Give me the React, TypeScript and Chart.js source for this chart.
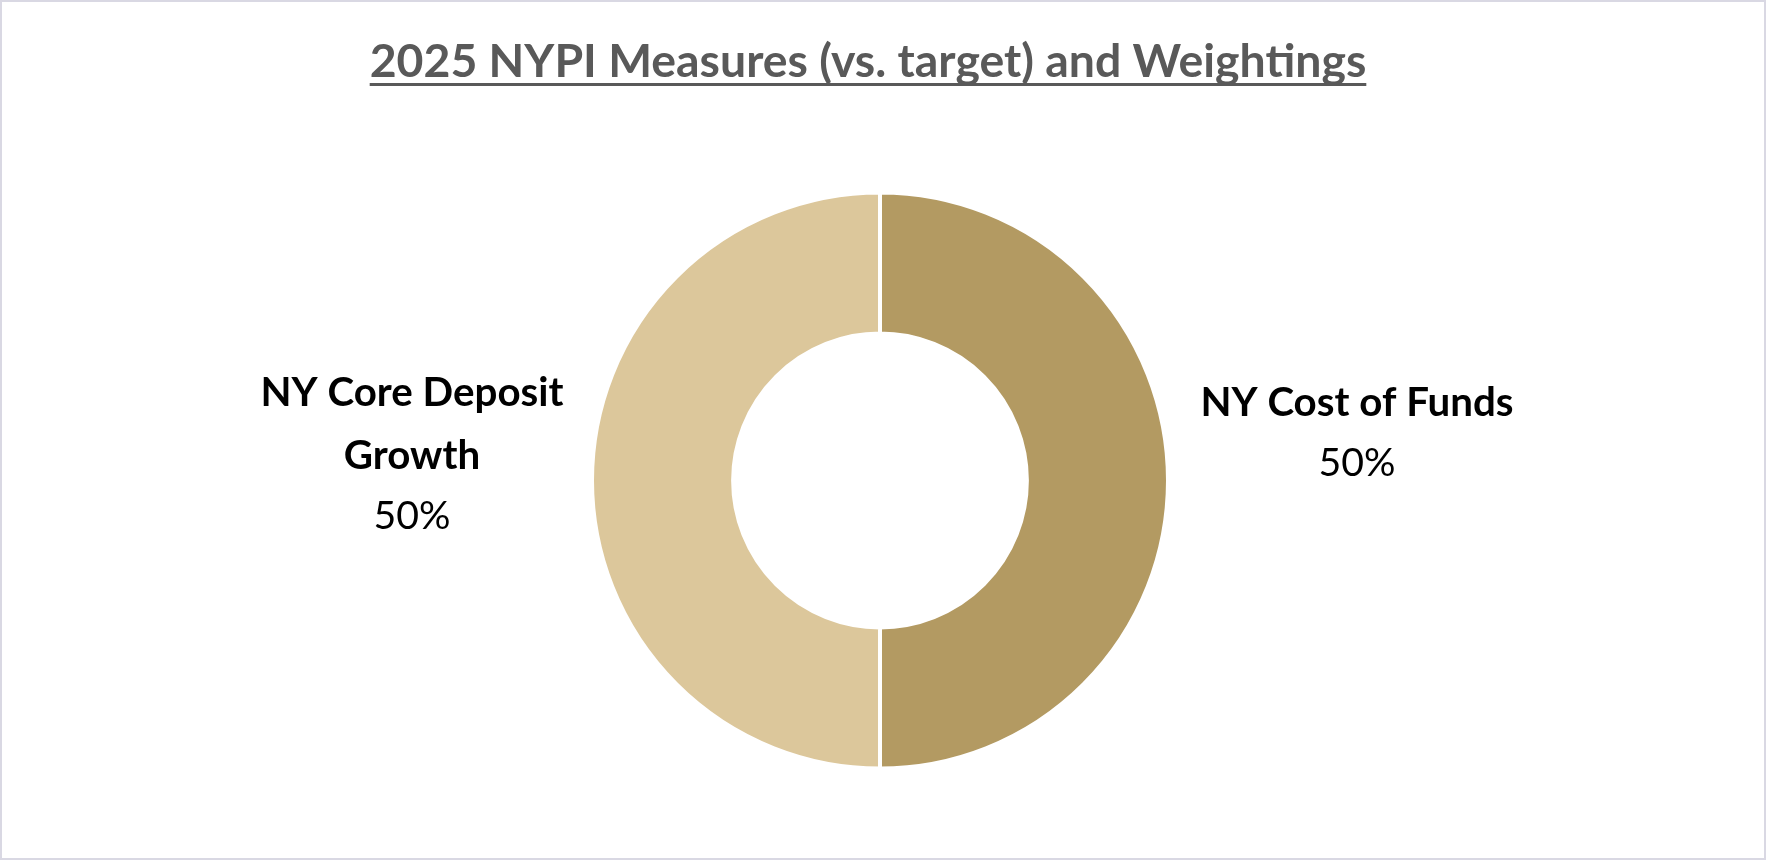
import React, { useEffect, useRef } from "react";
import { Chart, registerables } from "chart.js";

Chart.register(...registerables);

const titleText = "2025 NYPI Measures (vs. target) and Weightings";
const categories = ["NY Cost of Funds", "NY Core Deposit Growth"];
const labelLines = [["NY Cost of Funds"], ["NY Core Deposit", "Growth"]];
const weights = [50, 50];
const sliceColors = ["#B39A62", "#DCC79B"];

const W = 1766;
const H = 860;
const FONT = "Lato, 'Open Sans', sans-serif";

function fitSize(ctx: CanvasRenderingContext2D, text: string, weight: string, target: number) {
  ctx.font = `${weight} 100px ${FONT}`;
  const w = ctx.measureText(text).width;
  return (100 * target) / w;
}

const framePlugin = {
  id: "frame",
  beforeDraw(chart: any) {
    const ctx = chart.ctx as CanvasRenderingContext2D;
    ctx.save();
    ctx.fillStyle = "#FFFFFF";
    ctx.fillRect(0, 0, W, H);
    ctx.strokeStyle = "#D9D8E3";
    ctx.lineWidth = 2;
    ctx.strokeRect(1, 1, W - 2, H - 2);
    ctx.restore();
  },
};

const titlePlugin = {
  id: "ulTitle",
  afterDraw(chart: any) {
    const ctx = chart.ctx as CanvasRenderingContext2D;
    ctx.save();
    const size = fitSize(ctx, titleText, "bold", 997);
    ctx.font = `bold ${size}px ${FONT}`;
    ctx.fillStyle = "#595959";
    ctx.textAlign = "center";
    ctx.textBaseline = "alphabetic";
    const cx = 868;
    ctx.fillText(titleText, cx, 77);
    const tw = ctx.measureText(titleText).width;
    ctx.fillRect(cx - tw / 2, 83, tw, 3);
    ctx.restore();
  },
};

const labelDist = [189, 180];
const labelFirstBaseline = [-65, -75];
const lineStep = 63;
const pctGap = 60;

const sliceLabelPlugin = {
  id: "sliceLabels",
  afterDatasetsDraw(chart: any) {
    const ctx = chart.ctx as CanvasRenderingContext2D;
    const meta = chart.getDatasetMeta(0);
    const total = weights.reduce((a, b) => a + b, 0);
    ctx.save();
    const boldSize = fitSize(ctx, "NY Core Deposit", "bold", 303);
    const pctSize = fitSize(ctx, "50%", "normal", 77);
    ctx.textAlign = "center";
    ctx.textBaseline = "alphabetic";
    ctx.fillStyle = "#000000";
    meta.data.forEach((el: any, i: number) => {
      const p = el.getProps(["x", "y", "startAngle", "endAngle", "outerRadius"], true);
      const mid = (p.startAngle + p.endAngle) / 2;
      const lx = p.x + Math.cos(mid) * (p.outerRadius + labelDist[i]);
      let by = p.y + labelFirstBaseline[i];
      ctx.font = `bold ${boldSize}px ${FONT}`;
      labelLines[i].forEach((line, k) => {
        ctx.fillText(line, lx, by + k * lineStep);
      });
      by += (labelLines[i].length - 1) * lineStep + pctGap;
      ctx.font = `normal ${pctSize}px ${FONT}`;
      ctx.fillText(`${Math.round((weights[i] / total) * 100)}%`, lx, by);
    });
    ctx.restore();
  },
};

export default function App() {
  const ref = useRef<HTMLCanvasElement | null>(null);
  useEffect(() => {
    document.body.style.margin = "0";
    if (!ref.current) return;
    const chart = new Chart(ref.current, {
      type: "doughnut",
      data: {
        labels: categories,
        datasets: [
          {
            data: weights,
            backgroundColor: sliceColors,
            borderColor: "#FFFFFF",
            borderWidth: 4,
            hoverOffset: 0,
          },
        ],
      },
      options: {
        responsive: false,
        animation: false,
        cutout: "51%",
        layout: { padding: { top: 190, bottom: 89, left: 590, right: 596 } },
        plugins: {
          legend: { display: false },
          title: { display: false },
          tooltip: { enabled: false },
        },
      },
      plugins: [framePlugin, titlePlugin, sliceLabelPlugin],
    });
    return () => chart.destroy();
  }, []);
  return (
    <div style={{ width: W, height: H }}>
      <canvas ref={ref} width={W} height={H} style={{ display: "block" }} />
    </div>
  );
}
